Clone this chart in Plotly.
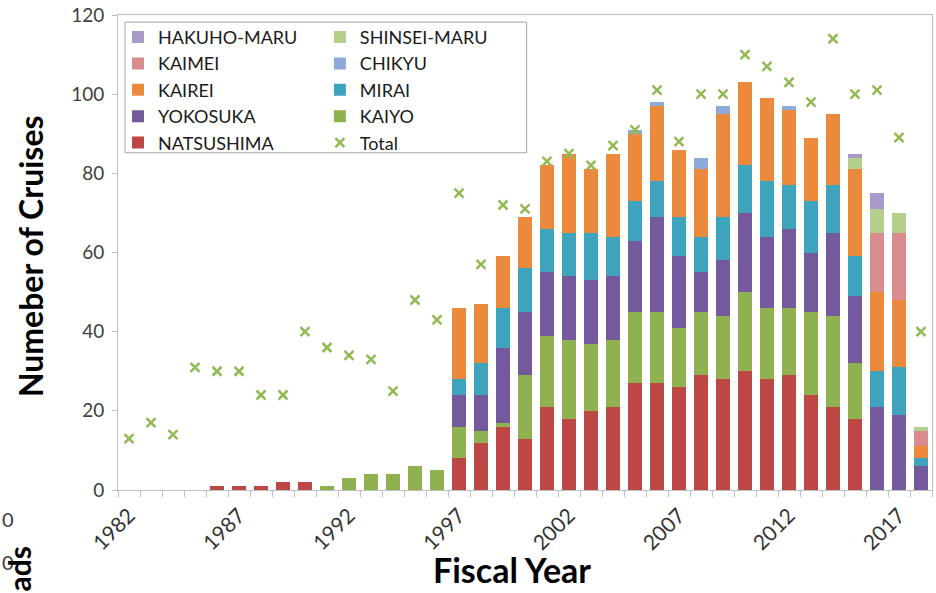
import plotly.graph_objects as go

years = [1982, 1983, 1984, 1985, 1986, 1987, 1988, 1989, 1990, 1991, 1992, 1993,
         1994, 1995, 1996, 1997, 1998, 1999, 2000, 2001, 2002, 2003, 2004, 2005,
         2006, 2007, 2008, 2009, 2010, 2011, 2012, 2013, 2014, 2015, 2016, 2017, 2018]

natsushima = [0, 0, 0, 0, 1, 1, 1, 2, 2, 0, 0, 0, 0, 0, 0, 8, 12, 16, 13, 21, 18, 20,
              21, 27, 27, 26, 29, 28, 30, 28, 29, 24, 21, 18, 0, 0, 0]
kaiyo = [0, 0, 0, 0, 0, 0, 0, 0, 0, 1, 3, 4, 4, 6, 5, 8, 3, 1, 16, 18, 20, 17,
         17, 18, 18, 15, 16, 16, 20, 18, 17, 21, 23, 14, 0, 0, 0]
yokosuka = [0, 0, 0, 0, 0, 0, 0, 0, 0, 0, 0, 0, 0, 0, 0, 8, 9, 19, 16, 16, 16, 16,
            16, 18, 24, 18, 10, 14, 20, 18, 20, 15, 21, 17, 21, 19, 6]
mirai = [0, 0, 0, 0, 0, 0, 0, 0, 0, 0, 0, 0, 0, 0, 0, 4, 8, 10, 11, 11, 11, 12,
         10, 10, 9, 10, 9, 11, 12, 14, 11, 13, 12, 10, 9, 12, 2]
kairei = [0, 0, 0, 0, 0, 0, 0, 0, 0, 0, 0, 0, 0, 0, 0, 18, 15, 13, 13, 16, 20, 16,
          21, 17, 19, 17, 17, 26, 21, 21, 19, 16, 18, 22, 20, 17, 3]
chikyu = [0, 0, 0, 0, 0, 0, 0, 0, 0, 0, 0, 0, 0, 0, 0, 0, 0, 0, 0, 0, 0, 0,
          0, 1, 1, 0, 3, 2, 0, 0, 1, 0, 0, 0, 0, 0, 0]
kaimei = [0, 0, 0, 0, 0, 0, 0, 0, 0, 0, 0, 0, 0, 0, 0, 0, 0, 0, 0, 0, 0, 0,
          0, 0, 0, 0, 0, 0, 0, 0, 0, 0, 0, 0, 15, 17, 4]
shinsei_maru = [0, 0, 0, 0, 0, 0, 0, 0, 0, 0, 0, 0, 0, 0, 0, 0, 0, 0, 0, 0, 0, 0,
                0, 0, 0, 0, 0, 0, 0, 0, 0, 0, 0, 3, 6, 5, 1]
hakuho_maru = [0, 0, 0, 0, 0, 0, 0, 0, 0, 0, 0, 0, 0, 0, 0, 0, 0, 0, 0, 0, 0, 0,
               0, 0, 0, 0, 0, 0, 0, 0, 0, 0, 0, 1, 4, 0, 0]
total = [13, 17, 14, 31, 30, 30, 24, 24, 40, 36, 34, 33, 25, 48, 43, 75, 57, 72, 71,
         83, 85, 82, 87, 91, 101, 88, 100, 100, 110, 107, 103, 98, 114, 100, 101, 89, 40]

tick_years = [1982, 1987, 1992, 1997, 2002, 2007, 2012, 2017]

FONT = "Lato"

# (name, values, color, legend, rank) in stacking order bottom -> top
series = [
    ("NATSUSHIMA", natsushima, "#bc4744", "legend", 5),
    ("KAIYO", kaiyo, "#8fb150", "legend2", 4),
    ("YOKOSUKA", yokosuka, "#74599c", "legend", 4),
    ("MIRAI", mirai, "#3ea4bd", "legend2", 3),
    ("KAIREI", kairei, "#eb8a3c", "legend", 3),
    ("CHIKYU", chikyu, "#8eaad8", "legend2", 2),
    ("KAIMEI", kaimei, "#d98c8e", "legend", 2),
    ("SHINSEI-MARU", shinsei_maru, "#b4cf8c", "legend2", 1),
    ("HAKUHO-MARU", hakuho_maru, "#a799c9", "legend", 1),
]

fig = go.Figure()
for name, vals, color, leg, rank in series:
    fig.add_trace(go.Bar(
        x=years, y=vals, name=name, marker=dict(color=color, line=dict(width=0)),
        width=0.6, legend=leg, legendrank=rank,
    ))

fig.add_trace(go.Scatter(
    x=years, y=total, name="Total", mode="markers",
    marker=dict(symbol="x-thin", size=9, line=dict(width=2.5, color="#93b954"),
                color="#93b954"),
    legend="legend2", legendrank=5,
))

legend_common = dict(
    font=dict(family=FONT, size=18, color="#1a1a1a"),
    bgcolor="rgba(0,0,0,0)", borderwidth=0, orientation="v",
    traceorder="normal",
    xanchor="left", yanchor="top", tracegroupgap=0, itemclick=False,
)

fig.update_layout(
    width=936, height=593,
    margin=dict(l=118, r=4, t=15, b=103),
    paper_bgcolor="white", plot_bgcolor="white",
    barmode="stack", bargap=0.4,
    font=dict(family=FONT, color="#404040"),
    legend=dict(x=0.0, y=0.992, **legend_common),
    legend2=dict(x=0.248, y=0.992, **legend_common),
    xaxis=dict(
        range=[1981.5, 2018.5], tickmode="array", tickvals=tick_years,
        ticktext=[str(t) for t in tick_years], tickangle=-45,
        ticks="", showgrid=False, zeroline=False, ticklabelstandoff=4,
        showline=True, linecolor="#bfbfbf", linewidth=1, mirror=True,
        tickfont=dict(family=FONT, size=21, color="#333333"),
        minor=dict(tick0=1981.5, dtick=1, ticks="outside", ticklen=6,
                   tickcolor="#bfbfbf", showgrid=False),
    ),
    yaxis=dict(
        range=[0, 120], dtick=20, tick0=0, showgrid=False, zeroline=False,
        showline=True, linecolor="#bfbfbf", linewidth=1, mirror=True,
        ticks="outside", ticklen=5, tickcolor="#bfbfbf", ticklabelstandoff=4,
        tickfont=dict(family=FONT, size=19, color="#404040"),
    ),
    shapes=[dict(type="rect", xref="paper", yref="paper",
                 x0=0.0086, x1=0.502, y0=0.710, y1=0.985,
                 line=dict(color="#a6a6a6", width=1), fillcolor="rgba(0,0,0,0)")],
    annotations=[
        dict(text="<b>Numeber of Cruises</b>", xref="paper", yref="paper",
             x=-0.108, y=0.4926, textangle=-90, showarrow=False,
             xanchor="center", yanchor="middle",
             font=dict(family=FONT, size=32, color="#000000")),
        dict(text="<b>Fiscal Year</b>", xref="paper", yref="paper",
             x=0.484, y=-0.2145, showarrow=False, xanchor="center", yanchor="bottom",
             font=dict(family=FONT, size=34, color="#000000")),
        # fragments of a neighbouring chart cut off at the left edge
        dict(text="0", xref="paper", yref="paper", x=-0.145, y=-0.06,
             showarrow=False, xanchor="left", yanchor="middle",
             font=dict(family=FONT, size=20, color="#404040")),
        dict(text="0", xref="paper", yref="paper", x=-0.145, y=-0.152,
             showarrow=False, xanchor="left", yanchor="middle",
             font=dict(family=FONT, size=20, color="#404040")),
        dict(text="<b>ads</b>", xref="paper", yref="paper", x=-0.122, y=-0.166,
             textangle=-90, showarrow=False, xanchor="center", yanchor="middle",
             font=dict(family=FONT, size=30, color="#000000")),
    ],
)

fig.write_html("out.html")
